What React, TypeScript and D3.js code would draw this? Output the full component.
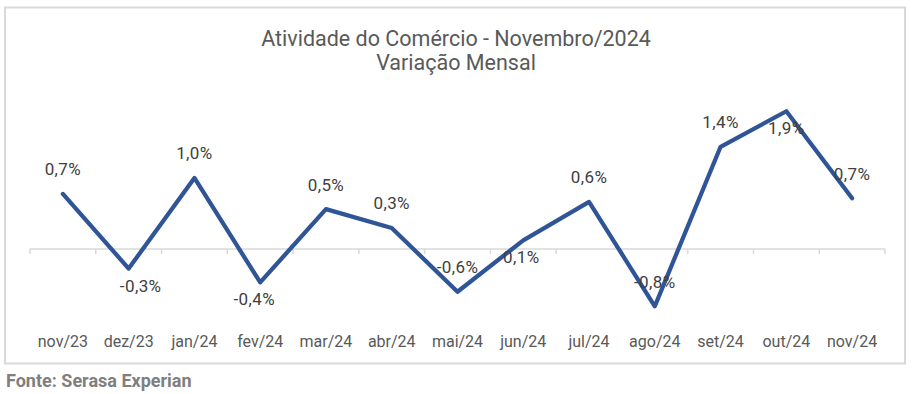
import * as d3 from 'd3';

// data
const months = ['nov/23', 'dez/23', 'jan/24', 'fev/24', 'mar/24', 'abr/24', 'mai/24', 'jun/24', 'jul/24', 'ago/24', 'set/24', 'out/24', 'nov/24'];
const variation = [0.76, -0.27, 0.98, -0.46, 0.55, 0.29, -0.59, 0.12, 0.65, -0.79, 1.41, 1.9, 0.7];
const valueLabels = ['0,7%', '-0,3%', '1,0%', '-0,4%', '0,5%', '0,3%', '-0,6%', '0,1%', '0,6%', '-0,8%', '1,4%', '1,9%', '0,7%'];
// where each data label sits relative to its point
const labelSide = ['up', 'down', 'up', 'down', 'up', 'up', 'up', 'down', 'up', 'up', 'up', 'down', 'up'];
const labelShift = [0, 12, 0, -6, 0, 0, 0, -2, 0, 0, 0, 0, 0];

const width = 912;
const height = 394;
const FONT = 'Roboto, "Noto Sans", sans-serif';

export default function App() {
  const x = d3.scaleBand<string>().domain(months).range([30, 885]);
  const y = d3.scaleLinear().domain([-1, 2]).range([321.5, 104]);
  const cx = (m: string) => (x(m) || 0) + x.bandwidth() / 2;

  const line = d3.line<number>()
    .x((_, i) => cx(months[i]))
    .y(d => y(d));

  const tickXs = months.map(m => x(m) || 0).concat([885]);

  return (
    <div style={{ position: 'absolute', left: 0, top: 0 }}>
      <svg width={width} height={height} style={{ display: 'block', background: '#fff' }}>
        <rect x={5} y={7.5} width={900} height={356} fill="#fff" stroke="#d9d9d9" strokeWidth={2} />

        <text x={456} y={46} textAnchor="middle" fontFamily={FONT} fontSize={21.5} fill="#595959">
          Atividade do Comércio - Novembro/2024
        </text>
        <text x={456} y={70} textAnchor="middle" fontFamily={FONT} fontSize={21.5} fill="#595959">
          Variação Mensal
        </text>

        {/* zero axis */}
        <line x1={30} x2={885} y1={y(0)} y2={y(0)} stroke="#d9d9d9" strokeWidth={1.5} />
        {tickXs.map((t, i) => (
          <line key={i} x1={t} x2={t} y1={y(0)} y2={y(0) + 5} stroke="#d9d9d9" strokeWidth={1.5} />
        ))}

        <path d={line(variation) || ''} fill="none" stroke="#2F5597" strokeWidth={4.25} strokeLinejoin="round" strokeLinecap="round" />

        {variation.map((v, i) => (
          <text
            key={months[i]}
            x={cx(months[i]) + labelShift[i]}
            y={y(v) + (labelSide[i] === 'up' ? -18.5 : 23)}
            textAnchor="middle"
            fontFamily={FONT}
            fontSize={17}
            letterSpacing={0.4}
            fill="#404040"
          >
            {valueLabels[i]}
          </text>
        ))}

        {months.map(m => (
          <text key={m} x={cx(m)} y={347} textAnchor="middle" fontFamily={FONT} fontSize={16} fill="#595959">
            {m}
          </text>
        ))}

        <text x={6} y={387} fontFamily={FONT} fontSize={18} fontWeight="bold" fill="#7f7f7f">
          Fonte: Serasa Experian
        </text>
      </svg>
    </div>
  );
}
